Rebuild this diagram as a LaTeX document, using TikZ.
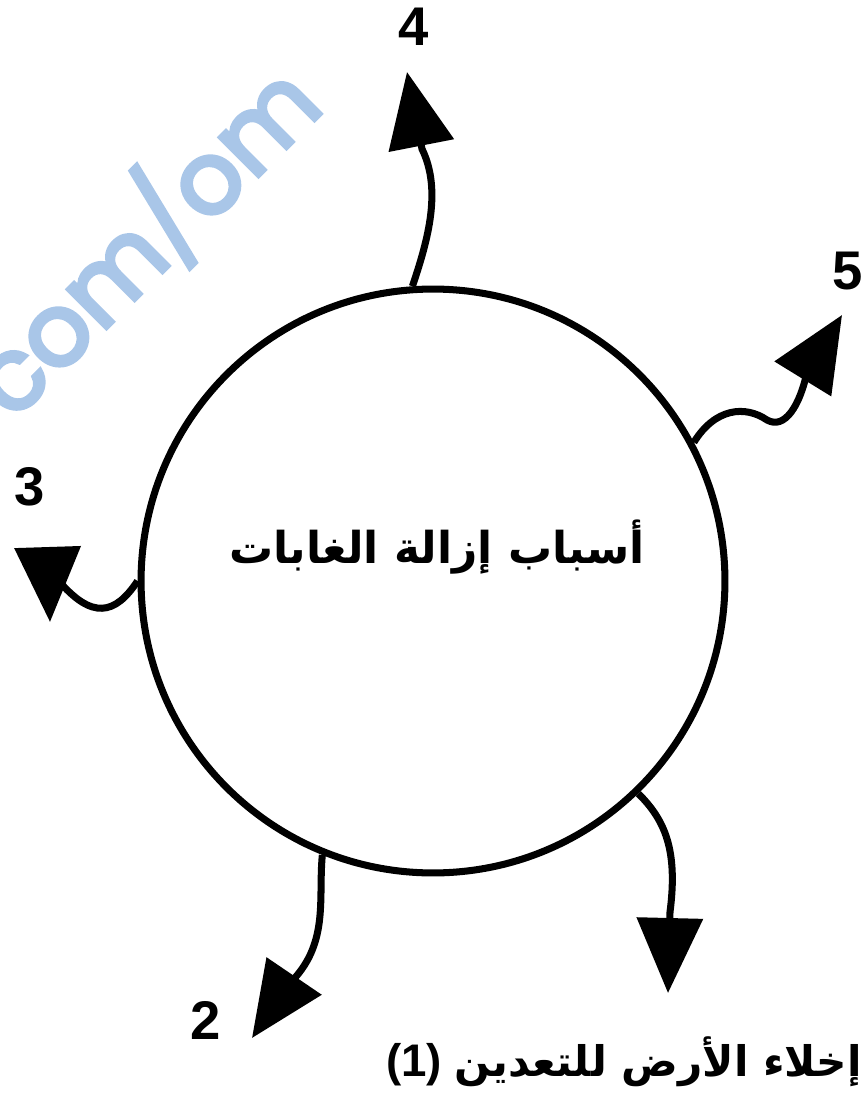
\documentclass[tikz,border=0pt]{standalone}
\usepackage{fontspec}
\setmainfont{Liberation Sans}
\newfontfamily\arabicfont[Script=Arabic]{DejaVu Sans}
\newfontfamily\wmfont[FakeBold=4]{Poppins}
\TeXXeTstate=1
\usetikzlibrary{arrows.meta, positioning}
\definecolor{wmblue}{RGB}{169,198,232}
\tikzset{
  cause/.style={line width=4pt, -{Triangle[length=1.5cm,width=1.3cm]}},
  num/.style={font=\bfseries\fontsize{31}{31}\selectfont, inner sep=0pt}
}

\begin{document}
\begin{tikzpicture}[x=0.02cm, y=-0.02cm]
    \useasboundingbox (0,0) rectangle (865,1098);
    % watermark
    \node[rotate=45, text=wmblue, font=\wmfont\fontsize{57}{57}\selectfont, inner sep=0pt] (wm) at (142,238) {com/om};

    \node[circle, draw, line width=4pt, minimum size=11.68cm, inner sep=0pt] (hub) at (433,581) {};
    \node[font=\arabicfont\bfseries\fontsize{25}{25}\selectfont] (title) at (437,547) {\beginR أسباب إزالة الغابات\endR};

    \coordinate (t4) at (407,72);
    \coordinate (t5) at (842,315);
    \coordinate (t3) at (50,622);
    \coordinate (t2) at (252,1038);
    \coordinate (t1) at (668,993);

    \node[num] (n4) at (414,27) {4};
    \node[num] (n5) at (848,271) {5};
    \node[num] (n3) at (30,487) {3};
    \node[num] (n2) at (206,1020) {2};
    \node[font=\bfseries\fontsize{26}{26}\selectfont, inner sep=0pt, anchor=east] (n1) at (862,1062)
      {(1) {\arabicfont\fontsize{24}{24}\selectfont\beginR إخلاء الأرض للتعدين\endR}};

    % the five causes
    \draw[cause] (hub.94) .. controls (428,240) and (442,190) .. (422,149) -- (t4);
    \draw[cause] (hub.28.5) .. controls (715,408) and (745,405) .. (767,420)
                 .. controls (785,430) and (800,405) .. (807,372) -- (t5);
    \draw[cause] (hub.180) .. controls (115,615) and (92,620) .. (58,580) (48,560) -- (t3);
    \draw[cause] (hub.248) .. controls (318,900) and (330,945) .. (288,985) -- (t2);
    \draw[cause] (hub.314) .. controls (665,820) and (678,850) .. (670,912) -- (t1);
\end{tikzpicture}
\end{document}
